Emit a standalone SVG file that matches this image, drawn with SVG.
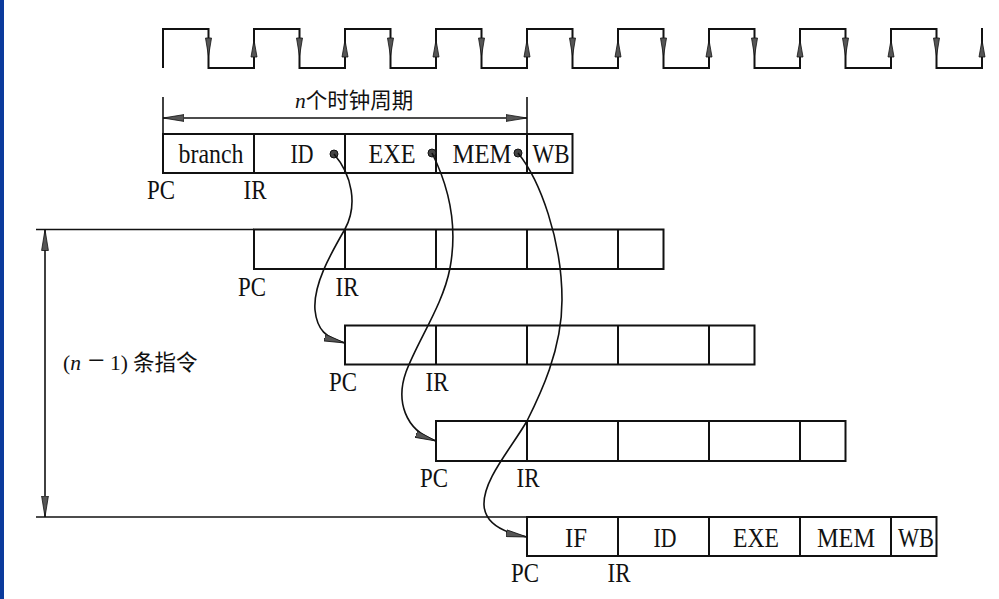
<svg xmlns="http://www.w3.org/2000/svg" xmlns:xlink="http://www.w3.org/1999/xlink" width="999" height="599" viewBox="0 0 999 599">
<style>
  .ln { fill: none; stroke: #111; stroke-width: 2; }
  .thin { fill: none; stroke: #111; stroke-width: 1.6; }
  .cell { fill: #fff; stroke: #111; stroke-width: 2; }
  .curve { fill: none; stroke: #111; stroke-width: 1.6; }
  .t { font-family: "Liberation Serif", "Times New Roman", serif; font-size: 27px; fill: #111; text-anchor: middle; }
  .cjk { font-family: "Liberation Serif", "Noto Sans CJK SC", serif; font-size: 21.5px; fill: #111; }
  .ck { fill: #555; stroke: #111; stroke-width: 0.8; }
  .dot { fill: #444; stroke: #111; stroke-width: 1; }
</style>
<defs>
  <marker id="ah" viewBox="0 0 22 8" refX="21" refY="4" markerWidth="22" markerHeight="8" markerUnits="userSpaceOnUse" orient="auto-start-reverse">
    <path d="M0,0.6 L21,4 L0,7.4 Z" fill="#555" stroke="#111" stroke-width="0.8"/>
  </marker>
  <path id="dn" class="ck" d="M-3,38 L3,38 L0,56 Z"/>
  <path id="up" class="ck" d="M-3,57 L3,57 L0,40 Z"/>
</defs>

<rect x="0" y="0" width="4" height="599" fill="#0b3a9c"/>

<g id="clock">
  <path class="ln" d="M163,68 V29 H208.5 V68 H254 V29 H299.5 V68 H345 V29 H390.5 V68 H436 V29 H481.5 V68 H527 V29 H572.5 V68 H618 V29 H663.5 V68 H709 V29 H754.5 V68 H800 V29 H845.5 V68 H891 V29 H936.5 V68 H982 V28"/>
  <use xlink:href="#dn" x="208.5"/><use xlink:href="#dn" x="299.5"/><use xlink:href="#dn" x="390.5"/>
  <use xlink:href="#dn" x="481.5"/><use xlink:href="#dn" x="572.5"/><use xlink:href="#dn" x="663.5"/>
  <use xlink:href="#dn" x="754.5"/><use xlink:href="#dn" x="845.5"/><use xlink:href="#dn" x="936.5"/>
  <use xlink:href="#up" x="254"/><use xlink:href="#up" x="345"/><use xlink:href="#up" x="436"/>
  <use xlink:href="#up" x="527"/><use xlink:href="#up" x="618"/><use xlink:href="#up" x="709"/>
  <use xlink:href="#up" x="800"/><use xlink:href="#up" x="891"/><use xlink:href="#up" x="982"/>
</g>

<g id="dim-cycles">
  <line class="thin" x1="163" y1="97" x2="163" y2="134"/>
  <line class="thin" x1="527" y1="97" x2="527" y2="134"/>
  <line class="thin" x1="163" y1="118" x2="527" y2="118" marker-start="url(#ah)" marker-end="url(#ah)"/>
  <text class="cjk" x="295" y="108"><tspan font-style="italic">n</tspan>个时钟周期</text>
</g>

<g id="dim-instr">
  <line class="thin" x1="36" y1="229.5" x2="254" y2="229.5"/>
  <line class="thin" x1="36" y1="517" x2="527" y2="517"/>
  <line class="thin" x1="45" y1="229.5" x2="45" y2="517" marker-start="url(#ah)" marker-end="url(#ah)"/>
  <text class="cjk" x="63" y="370"><tspan x="63">(</tspan><tspan font-style="italic">n</tspan><tspan x="88" font-size="30">−</tspan><tspan x="110">1)</tspan><tspan x="133">条指令</tspan></text>
</g>

<g id="row1">
  <rect class="cell" x="163" y="134" width="409.5" height="39"/>
  <path class="ln" d="M254,134 V173 M345,134 V173 M436,134 V173 M527,134 V173"/>
  <text class="t" x="211" y="163" textLength="65" lengthAdjust="spacingAndGlyphs">branch</text>
  <text class="t" x="302" y="163" textLength="23" lengthAdjust="spacingAndGlyphs">ID</text>
  <text class="t" x="392" y="163" textLength="47" lengthAdjust="spacingAndGlyphs">EXE</text>
  <text class="t" x="482" y="163" textLength="59" lengthAdjust="spacingAndGlyphs">MEM</text>
  <text class="t" x="551" y="163" textLength="37" lengthAdjust="spacingAndGlyphs">WB</text>
  <text class="t" x="161" y="199" textLength="28" lengthAdjust="spacingAndGlyphs">PC</text>
  <text class="t" x="255" y="199" textLength="23" lengthAdjust="spacingAndGlyphs">IR</text>
  <circle class="dot" cx="334" cy="154" r="4"/>
  <circle class="dot" cx="432" cy="153" r="4"/>
  <circle class="dot" cx="518" cy="153" r="4"/>
</g>

<g id="row2">
  <rect class="cell" x="254" y="229.5" width="409.5" height="39.5"/>
  <path class="ln" d="M345,229.5 V269 M436,229.5 V269 M527,229.5 V269 M618,229.5 V269"/>
  <text class="t" x="252" y="296" textLength="28" lengthAdjust="spacingAndGlyphs">PC</text>
  <text class="t" x="347" y="296" textLength="23" lengthAdjust="spacingAndGlyphs">IR</text>
</g>

<g id="row3">
  <rect class="cell" x="345" y="325.5" width="409.5" height="39"/>
  <path class="ln" d="M436,325.5 V364.5 M527,325.5 V364.5 M618,325.5 V364.5 M709,325.5 V364.5"/>
  <text class="t" x="343" y="391" textLength="28" lengthAdjust="spacingAndGlyphs">PC</text>
  <text class="t" x="437" y="391" textLength="23" lengthAdjust="spacingAndGlyphs">IR</text>
</g>

<g id="row4">
  <rect class="cell" x="436" y="421" width="409.5" height="40"/>
  <path class="ln" d="M527,421 V461 M618,421 V461 M709,421 V461 M800,421 V461"/>
  <text class="t" x="434" y="487" textLength="28" lengthAdjust="spacingAndGlyphs">PC</text>
  <text class="t" x="528" y="487" textLength="23" lengthAdjust="spacingAndGlyphs">IR</text>
</g>

<g id="row5">
  <rect class="cell" x="527" y="517" width="409.5" height="39"/>
  <path class="ln" d="M618,517 V556 M709,517 V556 M800,517 V556 M891,517 V556"/>
  <text class="t" x="576" y="547" textLength="22" lengthAdjust="spacingAndGlyphs">IF</text>
  <text class="t" x="665" y="547" textLength="23" lengthAdjust="spacingAndGlyphs">ID</text>
  <text class="t" x="756" y="547" textLength="46" lengthAdjust="spacingAndGlyphs">EXE</text>
  <text class="t" x="846" y="547" textLength="58" lengthAdjust="spacingAndGlyphs">MEM</text>
  <text class="t" x="916" y="547" textLength="36" lengthAdjust="spacingAndGlyphs">WB</text>
  <text class="t" x="525" y="582" textLength="28" lengthAdjust="spacingAndGlyphs">PC</text>
  <text class="t" x="619" y="582" textLength="23" lengthAdjust="spacingAndGlyphs">IR</text>
</g>

<g id="connectors">
  <path class="curve" d="M334,154 C352,175 358,205 345,229 C330,255 313,285 315,310 C317,330 326,338 345,343" marker-end="url(#ah)"/>
  <path class="curve" d="M432,153 C448,185 458,225 450,268 C443,305 418,340 406,372 C396,400 404,430 436,441" marker-end="url(#ah)"/>
  <path class="curve" d="M518,153 C540,180 562,240 562,300 C562,350 540,395 527,421 C510,450 483,480 484,505 C485,525 505,533 527,537" marker-end="url(#ah)"/>
</g>
</svg>
